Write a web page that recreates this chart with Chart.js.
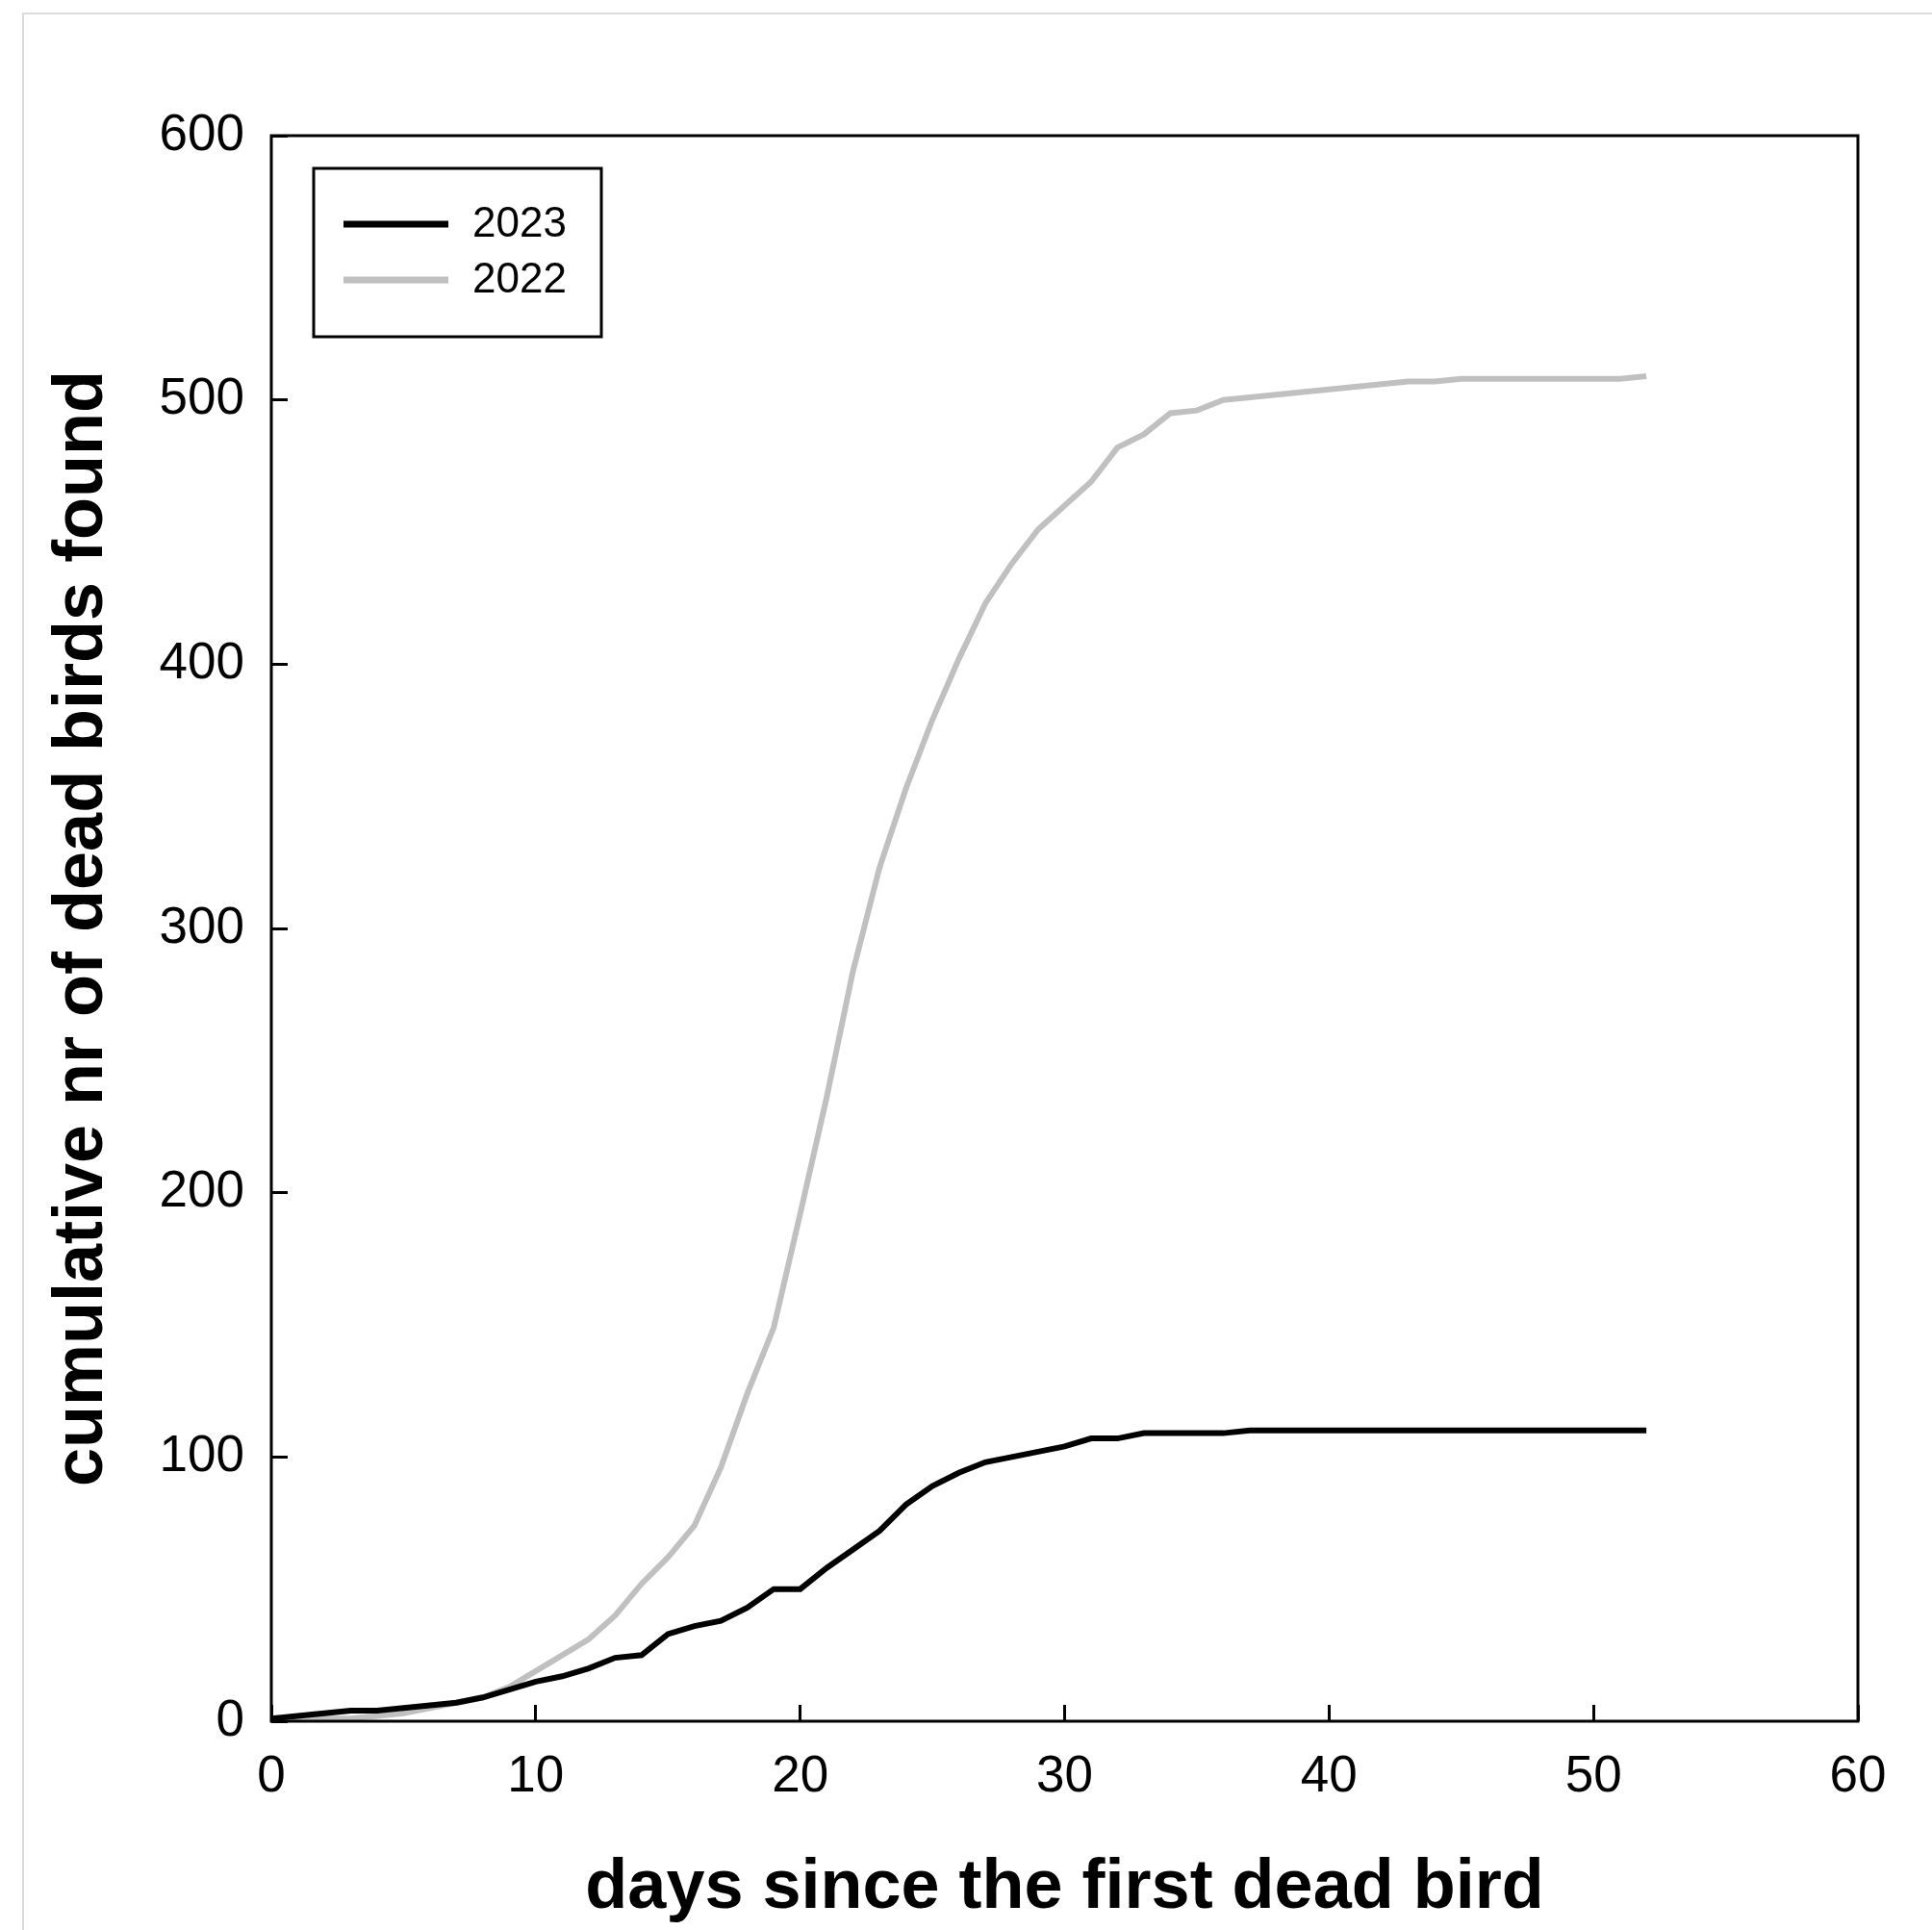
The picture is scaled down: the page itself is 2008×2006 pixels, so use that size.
<!DOCTYPE html>
<html>
<head>
<meta charset="utf-8">
<script src="https://cdn.jsdelivr.net/npm/chart.js@4.4.1/dist/chart.umd.min.js"></script>
<style>
	html, body { margin: 0; padding: 0; background: #fff; }
	#frame { position: absolute; left: 23px; top: 13px; width: 2100px; height: 2100px;
		border-left: 2px solid #dcdcdc; border-top: 2px solid #dcdcdc; }
	#myChart { position: absolute; left: 0; top: 0; }
</style>
</head>
<body>
<div id="frame"></div>
<canvas id="myChart" width="2008" height="2006"></canvas>
<script>
	// days since the first dead bird
	const days = [0, 1, 2, 3, 4, 5, 6, 7, 8, 9, 10, 11, 12, 13, 14, 15, 16, 17, 18, 19, 20,
		21, 22, 23, 24, 25, 26, 27, 28, 29, 30, 31, 32, 33, 34, 35, 36, 37, 38, 39, 40,
		41, 42, 43, 44, 45, 46, 47, 48, 49, 50, 51, 52];

	const birds_2023 = [1, 2, 3, 4, 4, 5, 6, 7, 9, 12, 15, 17, 20, 24, 25, 33, 36, 38, 43, 50, 50,
		58, 65, 72, 82, 89, 94, 98, 100, 102, 104, 107, 107, 109, 109, 109, 109, 110, 110, 110, 110,
		110, 110, 110, 110, 110, 110, 110, 110, 110, 110, 110, 110];

	const birds_2022 = [0, 0, 1, 1, 2, 3, 5, 7, 9, 13, 19, 25, 31, 40, 52, 62, 74, 96, 124, 149, 192,
		236, 284, 323, 353, 379, 402, 423, 438, 451, 460, 469, 482, 487, 495, 496, 500, 501, 502, 503, 504,
		505, 506, 507, 507, 508, 508, 508, 508, 508, 508, 508, 509];

	const xTicks = [0, 10, 20, 30, 40, 50, 60];
	const yTicks = [0, 100, 200, 300, 400, 500, 600];

	const fontName = "'Liberation Sans', Arial, sans-serif";

	function points(values) {
		return days.map(function (d, i) { return { x: d, y: values[i] }; });
	}

	// box round the plot and the framed legend
	const frameLegend = {
		id: 'frameLegend',
		afterDraw: function (chart) {
			const ctx = chart.ctx;
			const a = chart.chartArea;
			ctx.save();
			ctx.strokeStyle = '#000';
			ctx.lineWidth = 3;
			ctx.strokeRect(a.left, a.top, a.right - a.left, a.bottom - a.top);

			const bx = a.left + 44, by = a.top + 34;
			ctx.strokeRect(bx, by, 299, 175);
			ctx.font = '44px ' + fontName;
			ctx.textBaseline = 'middle';
			ctx.textAlign = 'left';
			chart.data.datasets.forEach(function (ds, i) {
				const ly = by + 58 + i * 58;
				ctx.strokeStyle = ds.borderColor;
				ctx.lineWidth = 7;
				ctx.beginPath();
				ctx.moveTo(bx + 31, ly);
				ctx.lineTo(bx + 140, ly);
				ctx.stroke();
				ctx.fillStyle = '#000';
				ctx.fillText(ds.label, bx + 165, ly + 1);
			});
			ctx.restore();
		}
	};

	const data = {
		datasets: [{
			label: '2023',
			data: points(birds_2023),
			borderColor: '#000000',
			borderWidth: 6,
			pointRadius: 0,
			tension: 0,
			fill: false
		}, {
			label: '2022',
			data: points(birds_2022),
			borderColor: 'rgb(192, 192, 192)',
			borderWidth: 6,
			pointRadius: 0,
			tension: 0,
			fill: false
		}]
	};

	const config = {
		type: 'line',
		data: data,
		options: {
			responsive: false,
			animation: false,
			devicePixelRatio: 1,
			layout: {
				padding: { left: 0, right: 77, top: 141, bottom: 0 }
			},
			plugins: {
				legend: { display: false },
				tooltip: { enabled: false }
			},
			scales: {
				x: {
					type: 'linear',
					min: 0,
					max: 60,
					afterFit: function (scale) { scale.height = 217; },
					afterBuildTicks: function (scale) {
						scale.ticks = xTicks.map(function (v) { return { value: v }; });
					},
					border: { display: false },
					grid: {
						drawOnChartArea: false,
						drawTicks: true,
						tickLength: -17,
						color: '#000',
						lineWidth: 3
					},
					ticks: {
						color: '#000',
						padding: 44,
						maxRotation: 0,
						font: { family: fontName, size: 53 }
					},
					title: {
						display: true,
						text: 'days since the first dead bird',
						color: '#000',
						padding: { top: 0, bottom: 0 },
						font: { family: fontName, size: 72, weight: 'bold' }
					}
				},
				y: {
					min: 0,
					max: 600,
					afterFit: function (scale) { scale.width = 282; },
					afterBuildTicks: function (scale) {
						scale.ticks = yTicks.map(function (v) { return { value: v }; });
					},
					border: { display: false },
					grid: {
						drawOnChartArea: false,
						drawTicks: true,
						tickLength: -17,
						color: '#000',
						lineWidth: 3
					},
					ticks: {
						color: '#000',
						padding: 45,
						font: { family: fontName, size: 53 }
					},
					title: {
						display: true,
						text: 'cumulative nr of dead birds found',
						color: '#000',
						padding: { top: 43, bottom: 0 },
						font: { family: fontName, size: 72, weight: 'bold' }
					}
				}
			}
		},
		plugins: [frameLegend]
	};

	const myChart = new Chart(document.getElementById('myChart'), config);
</script>
</body>
</html>
